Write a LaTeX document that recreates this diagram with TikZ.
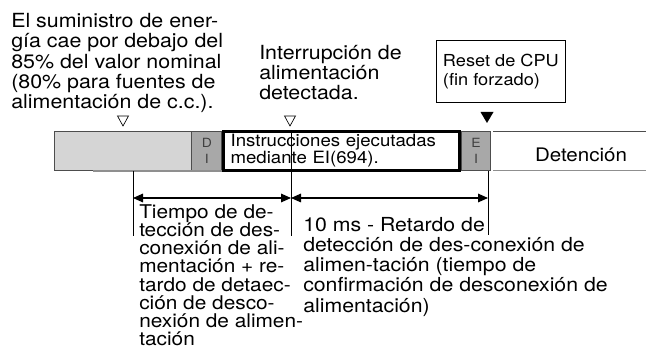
\documentclass[tikz,border=0pt]{standalone}
\usepackage{fontspec}
\setmainfont{TeX Gyre Heros}[FakeStretch=1.1]
\usetikzlibrary{arrows.meta,positioning}
\definecolor{BarLight}{HTML}{D5D5D5}
\definecolor{BarMid}{HTML}{A8A8A8}
\definecolor{BarEdge}{HTML}{4D4D4D}
\definecolor{ShadeLine}{HTML}{8F8F8F}

\begin{document}
\begin{tikzpicture}[x=0.75pt,y=-0.75pt,>={Triangle[length=7.5pt,width=6.5pt]},
    seg/.style={draw=BarEdge,line width=0.6pt,minimum height=29.25pt,inner sep=0pt},
    tag/.style={font={\fontsize{9.5}{12}\selectfont},text=black!75,align=center},
    note/.style={anchor=north west,inner sep=0pt,align=left,font={\fontsize{14.6}{15.15}\selectfont}},
    dim/.style={<->,line width=0.8pt},
    tick/.style={line width=0.6pt}]
    \useasboundingbox (0,0) rectangle (646,352);

    % timeline bar
    \node[seg,fill=BarLight,minimum width=102.5pt,anchor=north west] (drop) at (54,131) {};
    \node[seg,fill=BarMid,minimum width=22.5pt,right=0pt of drop,tag] (di) {D\\I};
    \node[seg,draw=black,line width=2pt,fill=white,minimum width=177pt,text width=166.5pt,inner xsep=5.25pt,
      align=left,right=0pt of di,font={\fontsize{12.7}{12.5}\selectfont}] (instr) {Instrucciones ejecutadas\\mediante EI(694).};
    \node[seg,fill=BarMid,minimum width=22pt,right=0pt of instr,tag] (ei) {E\\I};
    \coordinate (zoneEnd) at (646,131);
    \draw[tick,BarEdge] ([xshift=1.5pt]ei.north east) -- (zoneEnd);
    \draw[tick,ShadeLine] ([xshift=1.5pt]ei.south east) -- (zoneEnd |- ei.south);
    \draw[ShadeLine,line width=1.1pt] (93,171) -- (di.south east |- 0,171);
    \node[font={\fontsize{14}{15}\selectfont}] (stop) at (581,155) {Detención};

    % markers
    \foreach \x in {123,290}
      \draw[line width=0.5pt] (\x-5.5,116) -- (\x+5.5,116) -- (\x,126) -- cycle;
    \fill (480.5,112) -- (493.5,112) -- (487,123) -- cycle;

    % labels above
    \node[note] (supply) at (11,13.3) {El suministro de ener-\\gía cae por debajo del\\85\% del valor nominal\\(80\% para fuentes de\\alimentación de c.c.).};
    \node[note] (detect) at (259,45) {Interrupción de\\alimentación\\detectada.};
    \node[draw,line width=0.6pt,minimum width=96.75pt,minimum height=46.3pt,anchor=north west,inner sep=0pt,
      align=left,font={\fontsize{12.4}{14}\selectfont}] (reset) at (436,40) {Reset de CPU\\(fin forzado)};

    % time spans
    \coordinate (lossTop) at (133,171);
    \coordinate (lossEnd) at (133,236);
    \coordinate (detTop) at (291,131);
    \coordinate (detEnd) at (291,236);
    \coordinate (endTop) at (488,171);
    \coordinate (endEnd) at (488,235);
    \draw[tick] (lossTop) -- (lossEnd);
    \draw[tick] (detTop) -- (detEnd);
    \draw[tick] (endTop) -- (endEnd);
    \draw[dim] (lossTop |- 0,198) -- (detTop |- 0,198);
    \draw[dim] (detTop |- 0,198) -- (endTop |- 0,198);

    % labels below
    \node[note,font={\fontsize{14.2}{13.7}\selectfont}] (lossTime) at (139,204) {Tiempo de de-\\tección de des-\\conexión de ali-\\mentación + re-\\tardo de detaec-\\ción de desco-\\nexión de alimen-\\tación};
    \node[note,font={\fontsize{14.5}{15.2}\selectfont}] (confTime) at (303,216.7) {10 ms - Retardo de\\detección de des-conexión de\\alimen-tación (tiempo de\\confirmación de desconexión de\\alimentación)};
\end{tikzpicture}
\end{document}
